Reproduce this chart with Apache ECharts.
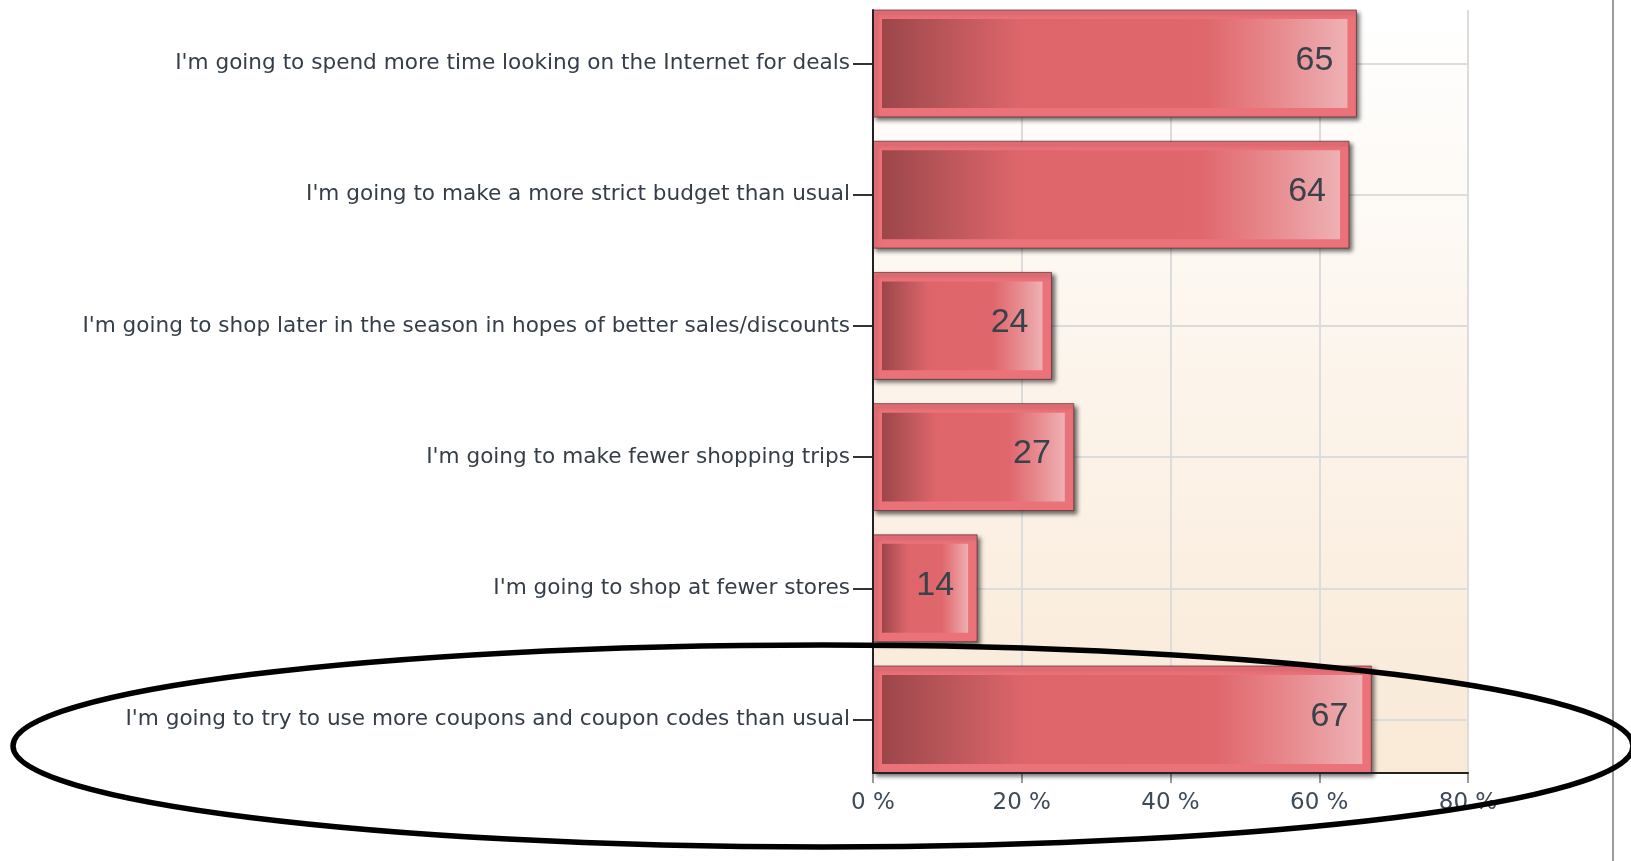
<!DOCTYPE html>
<html>
<head>
<meta charset="utf-8">
<title>Holiday shopping plans</title>
<script src="https://cdn.jsdelivr.net/npm/echarts@6/dist/echarts.min.js"></script>
<style>
  html, body { margin: 0; padding: 0; background: #fff; }
  #main { width: 1631px; height: 861px; }
</style>
</head>
<body>
<div id="main"></div>
<script>
// survey answers, top to bottom
var categories = [
  "I'm going to spend more time looking on the Internet for deals",
  "I'm going to make a more strict budget than usual",
  "I'm going to shop later in the season in hopes of better sales/discounts",
  "I'm going to make fewer shopping trips",
  "I'm going to shop at fewer stores",
  "I'm going to try to use more coupons and coupon codes than usual"
];
var values = [65, 64, 24, 27, 14, 67];
var xTicks = [0, 20, 40, 60, 80];

// plot frame (pixels)
var plotLeft = 873, plotWidth = 595;
var frameTop = 10, frameHeight = 763;
var bandTop = 63.5, bandHeight = 656;

var myChart = echarts.init(document.getElementById('main'));

var barGradient = new echarts.graphic.LinearGradient(0, 0, 1, 0, [
    { offset: 0, color: '#9c464a' },
    { offset: 0.12, color: '#b65458' },
    { offset: 0.3, color: '#de666b' },
    { offset: 0.7, color: '#e0686d' },
    { offset: 0.85, color: '#e78a8e' },
    { offset: 1, color: '#eeb1b4' }
]);

function renderBar(params, api) {
    var idx = api.value(1);
    var base = api.coord([0, idx]);
    var tip = api.coord([api.value(0), idx]);
    var thick = api.size([0, 1])[1] * 0.815;
    var y0 = base[1] - thick / 2;
    var w = tip[0] - base[0];
    var pad = 9;
    return {
        type: 'group',
        children: [
            {
                type: 'rect',
                shape: { x: base[0], y: y0, width: w, height: thick },
                style: {
                    fill: '#ec727a', stroke: 'rgba(90,45,48,0.7)', lineWidth: 1,
                    shadowBlur: 4, shadowOffsetX: 3, shadowOffsetY: 3,
                    shadowColor: 'rgba(0,0,0,0.55)'
                }
            },
            {
                type: 'rect',
                shape: { x: base[0] + pad, y: y0 + pad, width: w - 2 * pad, height: thick - 2 * pad },
                style: { fill: barGradient }
            },
            {
                type: 'text',
                style: {
                    text: String(api.value(0)),
                    x: tip[0] - 23, y: base[1] - 3,
                    align: 'right', verticalAlign: 'middle',
                    font: '34px "Liberation Sans", Arial, sans-serif',
                    fill: '#39414b'
                }
            }
        ]
    };
}

var option = {
    animation: false,
    backgroundColor: '#ffffff',
    grid: [
        // bars
        { left: plotLeft, width: plotWidth, top: bandTop, height: bandHeight },
        // frame with background and vertical grid lines
        {
            left: plotLeft, width: plotWidth, top: frameTop, height: frameHeight,
            show: true, borderWidth: 0,
            backgroundColor: new echarts.graphic.LinearGradient(0, 0, 0, 1, [
                { offset: 0, color: '#ffffff' },
                { offset: 1, color: '#f9e9d6' }
            ])
        },
        // axis lines drawn over the bars
        { left: plotLeft, width: plotWidth, top: frameTop, height: frameHeight }
    ],
    xAxis: [
        { gridIndex: 0, type: 'value', min: xTicks[0], max: xTicks[xTicks.length - 1], show: false },
        {
            gridIndex: 1, type: 'value',
            min: xTicks[0], max: xTicks[xTicks.length - 1], interval: xTicks[1] - xTicks[0],
            axisLine: { show: false },
            axisTick: { show: true, length: 10, lineStyle: { color: '#999', width: 2 } },
            axisLabel: {
                margin: 19,
                formatter: function (v) { return v + ' %'; },
                fontFamily: '"DejaVu Sans", sans-serif', fontSize: 23, color: '#3d4a58'
            },
            splitLine: { show: true, lineStyle: { color: '#dcdcdc', width: 2 } }
        },
        {
            gridIndex: 2, type: 'value', min: 0, max: 80, z: 5,
            axisLine: { show: true, onZero: false, lineStyle: { color: '#222', width: 2 } },
            axisTick: { show: false }, axisLabel: { show: false }, splitLine: { show: false }
        }
    ],
    yAxis: [
        {
            gridIndex: 0, type: 'category', data: categories,
            inverse: true, boundaryGap: false,
            axisLine: { show: false },
            axisTick: { show: true, length: 20, lineStyle: { color: '#333', width: 2 } },
            axisLabel: {
                margin: 23,
                fontFamily: '"DejaVu Sans", sans-serif', fontSize: 21.6, color: '#353e48'
            },
            splitLine: { show: true, lineStyle: { color: '#dcdcdc', width: 2 } }
        },
        { gridIndex: 1, type: 'value', show: false },
        {
            gridIndex: 2, type: 'value', z: 5,
            axisLine: { show: true, onZero: false, lineStyle: { color: '#222', width: 2 } },
            axisTick: { show: false }, axisLabel: { show: false }, splitLine: { show: false }
        }
    ],
    series: [
        {
            type: 'custom',
            xAxisIndex: 0,
            yAxisIndex: 0,
            clip: false,
            z: 2,
            encode: { x: 0, y: 1 },
            renderItem: renderBar,
            data: values.map(function (v, i) { return [v, i]; })
        }
    ],
    graphic: [
        {
            type: 'line', z: 1,
            shape: { x1: 1613, y1: 0, x2: 1613, y2: 861 },
            style: { stroke: '#9b9b9b', lineWidth: 2 }
        },
        {
            type: 'ellipse', z: 100,
            shape: { cx: 823, cy: 746, rx: 810, ry: 101 },
            style: { fill: 'none', stroke: '#000', lineWidth: 5.5 }
        }
    ]
};

myChart.setOption(option);
</script>
</body>
</html>
